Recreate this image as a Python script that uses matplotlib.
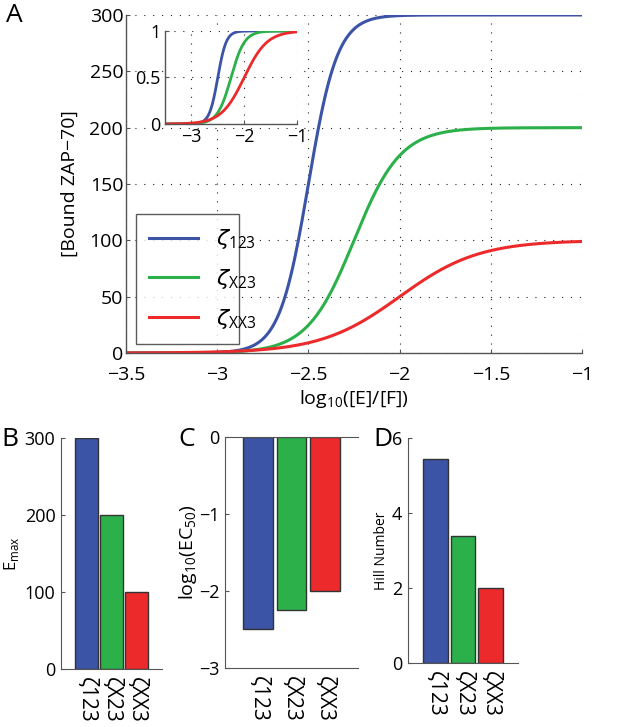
import matplotlib
matplotlib.use("Agg")
import matplotlib.pyplot as plt
import numpy as np

names = ["123", "X23", "XX3"]
emax = [300, 200, 100]
log_ec50 = [-2.5, -2.25, -2.0]
hill = [5.45, 3.4, 2.0]
colors = ["#3b54a5", "#2bb04a", "#ec2a2c"]

tick_names = ["\u03b6123", "\u03b6X23", "\u03b6XX3"]

plt.rcParams['font.family'] = ['Open Sans', 'DejaVu Sans']
plt.rcParams['mathtext.fontset'] = 'custom'
plt.rcParams['mathtext.rm'] = 'Open Sans'
plt.rcParams['mathtext.it'] = 'DejaVu Sans:italic'

fig = plt.figure(figsize=(6.31, 7.27), dpi=100)

# hill curve in log10 concentration
logx = np.linspace(-3.5, -1, 400)

def hill_curve(e, lec, n):
	r = 10 ** (n * (logx - lec))
	return e * r / (1 + r)

def grid_style(ax):
	ax.grid(True, linestyle=(0, (1, 7)), color="#222222", linewidth=0.8)
	for s in ["top", "right"]:
		ax.spines[s].set_visible(False)
	for s in ["left", "bottom"]:
		ax.spines[s].set_color("#555555")
		ax.spines[s].set_linewidth(1.0)
	ax.tick_params(direction="in", length=3, color="#555555")

# panel A
ax = fig.add_axes([0.1997, 0.5144, 0.7227, 0.465])
for i in range(3):
	ax.plot(logx, hill_curve(emax[i], log_ec50[i], hill[i]), color=colors[i], lw=2.2,
		label="$\\zeta_{\\mathrm{" + names[i] + "}}$")
ax.set_xlim(-3.5, -1)
ax.set_ylim(0, 300)
ax.set_xticks([-3.5, -3, -2.5, -2, -1.5, -1])
ax.set_xticklabels(["\u22123.5", "\u22123", "\u22122.5", "\u22122", "\u22121.5", "\u22121"])
ax.set_yticks(np.arange(0, 301, 50))
grid_style(ax)
ax.tick_params(labelsize=14)
ax.tick_params(axis="x", pad=9)
ax.tick_params(axis="y", pad=2)
ax.set_xlabel("log$_{\\mathrm{10}}$([E]/[F])", fontsize=14, labelpad=3)
ax.set_ylabel("[Bound ZAP\u221270]", fontsize=14, labelpad=8)
leg = ax.legend(loc="lower left", bbox_to_anchor=(0.022, 0.027, 0.226, 0.38), mode="expand",
	borderaxespad=0, fontsize=16, fancybox=False, edgecolor="#333333", handlelength=2.2,
	labelspacing=0.7, borderpad=0.6)
leg.get_frame().set_linewidth(1.0)

# inset
ins = fig.add_axes([0.2615, 0.8294, 0.2092, 0.128])
for i in range(3):
	ins.plot(logx, hill_curve(emax[i], log_ec50[i], hill[i]) / emax[i], color=colors[i], lw=2)
ins.set_xlim(-3.5, -1)
ins.set_ylim(0, 1)
ins.set_xticks([-3, -2, -1])
ins.set_xticklabels(["\u22123", "\u22122", "\u22121"])
ins.set_yticks([0, 0.5, 1])
ins.set_yticklabels(["0", "0.5", "1"])
grid_style(ins)
ins.tick_params(labelsize=13, pad=3)

narrow = ['Liberation Sans Narrow', 'Open Sans', 'DejaVu Sans']
xpos = [1, 2, 3]

def bar_panel(rect, vals, ylim, yticks, ylabel, lsize, lpad):
	b = fig.add_axes(rect)
	b.bar(xpos, vals, width=0.9, color=colors, edgecolor="#333333", linewidth=1.0)
	b.set_xlim(0, 4)
	b.set_ylim(*ylim)
	b.set_xticks(xpos)
	b.set_xticklabels(tick_names, rotation=270, fontsize=15, family=narrow)
	b.set_yticks(yticks)
	b.set_yticklabels([str(t).replace("-", "\u2212") for t in yticks], fontsize=13, family=narrow)
	b.tick_params(axis="x", length=0, pad=6)
	b.tick_params(axis="y", direction="in", length=3, color="#555555", pad=4)
	b.spines["top"].set_visible(False)
	b.spines["right"].set_visible(False)
	for s in ["left", "bottom"]:
		b.spines[s].set_color("#555555")
	b.set_ylabel(ylabel, fontsize=lsize, labelpad=lpad)
	return b

bB = bar_panel([0.0967, 0.0798, 0.160, 0.3177], emax, (0, 300), [0, 100, 200, 300],
	"E$_{\\mathrm{max}}$", 12, 3)
bC = bar_panel([0.3566, 0.0812, 0.2108, 0.3177], log_ec50, (-3, 0), [-3, -2, -1, 0],
	"log$_{\\mathrm{10}}$(EC$_{\\mathrm{50}}$)", 14, 0)
bC.spines["top"].set_visible(True)
bC.spines["top"].set_color("#555555")
bD = bar_panel([0.6466, 0.088, 0.1743, 0.3095], hill, (0, 6), [0, 2, 4, 6], "Hill Number", 10, 2)

# panel letters
for lab, px, py in [("A", 14, 16), ("B", 10, 440), ("C", 187, 440), ("D", 383, 440)]:
	fig.text(px / 631, 1 - py / 727, lab, fontsize=19, ha="center", va="center")

fig.savefig("out.png", dpi=100)
